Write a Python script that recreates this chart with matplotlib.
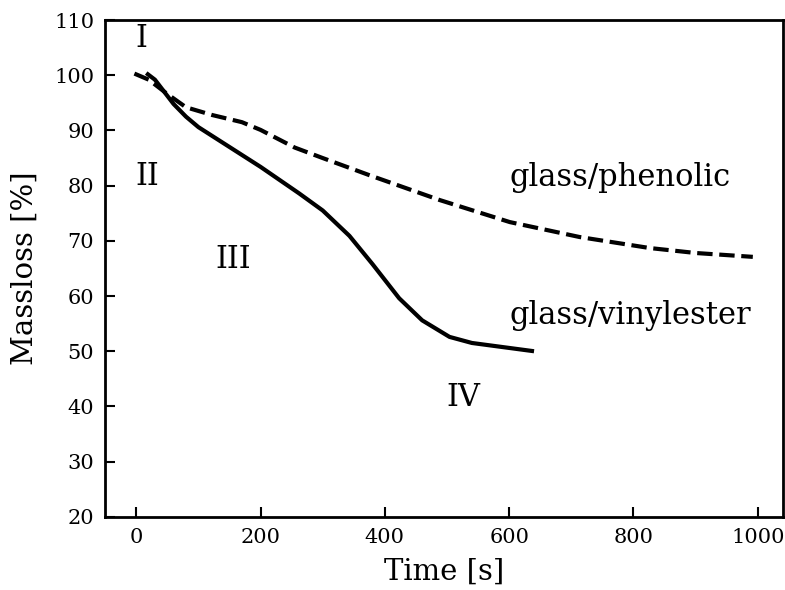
import matplotlib
matplotlib.use("Agg")
import matplotlib.pyplot as plt

plt.rcParams['font.family'] = ['DejaVu Serif']
plt.rcParams['mathtext.fontset'] = 'dejavuserif'

# glass/vinylester (solid)
t_vinyl = [16, 30, 45, 60, 80, 100, 150, 200, 262, 300, 343, 380, 423, 460, 504, 540, 600, 640]
m_vinyl = [100.4, 99.2, 97.0, 94.8, 92.5, 90.6, 87.0, 83.4, 78.6, 75.5, 70.9, 65.8, 59.6, 55.6, 52.6, 51.5, 50.6, 50.0]

# glass/phenolic (dashed)
t_phen = [-3, 20, 50, 80, 122, 170, 200, 255, 300, 375, 488, 601, 713, 826, 900, 992]
m_phen = [100.3, 99.2, 96.6, 94.2, 92.8, 91.5, 90.1, 86.9, 85.0, 81.9, 77.4, 73.4, 70.7, 68.7, 67.8, 67.1]

labels = ["I", "II", "III", "IV"]
label_t = [8, 18, 156, 527]
label_m = [106.7, 81.7, 66.7, 41.7]

fig = plt.figure(figsize=(7.85, 5.9), dpi=100)
ax = fig.add_axes([0.134, 0.124, 0.863, 0.842])

ax.plot(t_vinyl, m_vinyl, color='black', lw=3, solid_capstyle='butt')
ax.plot(t_phen, m_phen, color='black', lw=3, linestyle='--')

for s, x, y in zip(labels, label_t, label_m):
    ax.text(x, y, s, fontsize=22, ha='center', va='center')

ax.text(600, 81.5, "glass/phenolic", fontsize=22, ha='left', va='center')
ax.text(600, 56.5, "glass/vinylester", fontsize=22, ha='left', va='center')

ax.set_xlim(-50, 1040)
ax.set_ylim(20, 110)
ax.set_xticks([0, 200, 400, 600, 800, 1000])
ax.set_yticks(range(20, 111, 10))
ax.tick_params(direction='in', length=7, width=1.5, labelsize=15, pad=8)
for sp in ax.spines.values():
    sp.set_linewidth(2)
ax.set_xlabel("Time [s]", fontsize=21, labelpad=8)
ax.set_ylabel("Massloss [%]", fontsize=21, labelpad=11)

fig.savefig("out.png", dpi=100)
